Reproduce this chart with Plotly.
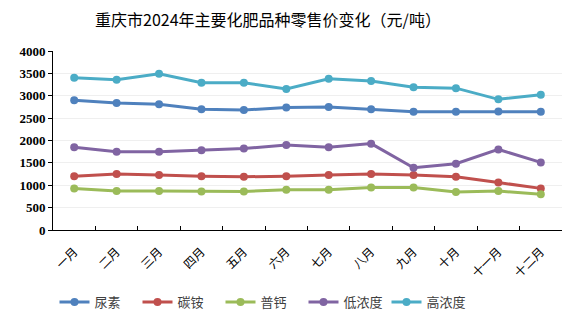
import plotly.graph_objects as go

months = ["一月", "二月", "三月", "四月", "五月", "六月", "七月", "八月", "九月", "十月", "十一月", "十二月"]
niaosu = [2900, 2840, 2810, 2700, 2680, 2740, 2750, 2700, 2640, 2640, 2650, 2645]
tanan = [1200, 1250, 1230, 1200, 1190, 1200, 1230, 1250, 1230, 1190, 1060, 930]
pugai = [930, 870, 870, 860, 860, 900, 900, 950, 950, 850, 870, 800]
dinongdu = [1850, 1750, 1750, 1780, 1820, 1900, 1850, 1930, 1390, 1480, 1800, 1510]
gaonongdu = [3400, 3360, 3490, 3290, 3290, 3150, 3380, 3330, 3190, 3170, 2920, 3020]

series = [
    ("尿素", niaosu, "#4F81BD"),
    ("碳铵", tanan, "#C0504D"),
    ("普钙", pugai, "#9BBB59"),
    ("低浓度", dinongdu, "#8064A2"),
    ("高浓度", gaonongdu, "#4BACC6"),
]

fig = go.Figure()
for name, vals, color in series:
    fig.add_trace(go.Scatter(
        x=months, y=vals, name=name, mode="lines+markers",
        line=dict(color=color, width=3),
        marker=dict(color=color, size=8),
    ))

cjk = "Noto Sans CJK SC"
L, R, T, B = 53, 16, 51, 96
pw = 578 - L - R
ph = 327 - T - B
fig.update_layout(
    width=578, height=327,
    margin=dict(l=L, r=R, t=T, b=B),
    paper_bgcolor="white", plot_bgcolor="white",
    title=dict(text="重庆市2024年主要化肥品种零售价变化（元/吨）",
               x=268 / 578, xanchor="center", y=1 - 20 / 327, yanchor="middle",
               font=dict(family=cjk, size=16, color="#000000")),
    showlegend=True,
    legend=dict(orientation="h", x=(262 - L) / pw, xanchor="center",
                y=-(302 - (327 - B)) / ph, yanchor="middle",
                font=dict(family=cjk, size=13, color="#404040"), itemwidth=30,
                entrywidth=38, entrywidthmode="pixels",
                tracegroupgap=0),
    xaxis=dict(type="category", range=[-0.5, 11.5], showline=True, linecolor="#000000", linewidth=1,
               ticks="inside", ticklen=4, tickcolor="#000000", tickson="boundaries",
               tickangle=-45, ticklabelstandoff=9,
               tickfont=dict(family=cjk, size=12, color="#000000"),
               showgrid=False, zeroline=False),
    yaxis=dict(range=[0, 4000], dtick=500, showline=True, linecolor="#000000", linewidth=1,
               ticks="outside", ticklen=4, tickcolor="#000000",
               showgrid=True, gridcolor="#EFEFEF", gridwidth=1, zeroline=False,
               tickfont=dict(family="Liberation Serif", size=13,
                             color="#000000", weight="bold")),
)

fig.write_html("out.html")
